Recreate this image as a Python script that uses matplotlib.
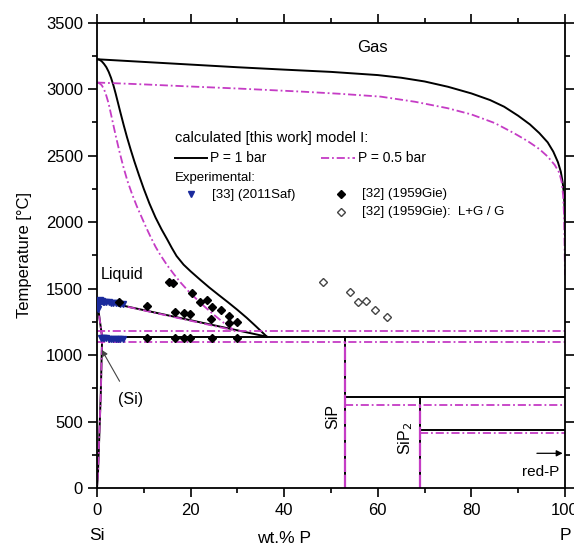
import matplotlib
matplotlib.use("Agg")
import matplotlib.pyplot as plt
from matplotlib.ticker import MultipleLocator

plt.rcParams['font.family'] = ['Liberation Sans', 'DejaVu Sans']

MAG = '#c53cc5'
DASH = (0, (4.5, 1.6, 1.0, 1.6))

# ---------------- data (wt.% P, T in degC) ----------------
gas1_x = [0, 5, 10, 20, 30, 40, 50, 60, 65, 70, 75, 80, 84, 87, 90, 92.5, 94.5, 96.3, 97.5, 98.5, 99.1, 99.5, 99.8, 99.95, 100]
gas1_T = [3225, 3215, 3205, 3185, 3165, 3147, 3130, 3106, 3086, 3058, 3018, 2968, 2918, 2868, 2800, 2735, 2670, 2600, 2530, 2450, 2380, 2300, 2200, 2050, 1900]

gas05_x = [0, 10, 20, 30, 43.5, 52, 60.6, 68, 74.9, 80, 85, 89.1, 92, 94.5, 96.3, 97.8, 98.8, 99.3, 99.6, 99.8, 99.9, 100]
gas05_T = [3050, 3036, 3020, 3005, 2982, 2965, 2944, 2905, 2857, 2810, 2745, 2669, 2610, 2550, 2493, 2430, 2370, 2300, 2200, 2050, 1850, 1600]

liq1_x = [0, 0.5, 1, 1.5, 2, 2.5, 3, 3.5, 4, 4.5, 5, 5.7, 6.4, 7.2, 8, 9, 10, 11.2, 12.5, 13.8, 15, 16, 17, 18.5, 20, 22, 24, 26, 28, 30, 32, 34, 36.3]
liq1_T = [3225, 3222, 3210, 3190, 3165, 3130, 3085, 3030, 2965, 2895, 2825, 2730, 2640, 2545, 2455, 2350, 2250, 2140, 2035, 1945, 1870, 1805, 1745, 1680, 1630, 1568, 1508, 1452, 1397, 1340, 1280, 1215, 1138]

liq05_x = [0, 0.5, 1, 1.5, 2, 2.5, 3, 3.5, 4, 4.8, 5.6, 6.5, 7.5, 8.5, 9.5, 10.5, 11.5, 12.5, 13.5, 15, 16.5, 18, 19.5, 21, 23, 25, 27, 29.2]
liq05_T = [3050, 3045, 3030, 3000, 2950, 2890, 2810, 2730, 2650, 2530, 2420, 2310, 2210, 2120, 2040, 1960, 1885, 1815, 1755, 1675, 1605, 1540, 1482, 1430, 1364, 1302, 1245, 1189]

siliq1_x = [0, 36.3]
siliq1_T = [1414, 1138]
siliq05_x = [0, 29.5]
siliq05_T = [1414, 1184]

solvus_x = [0, 1.1, 1.0, 0.8, 0.5, 0.2, 0]
solvus_T = [1414, 1134, 1000, 700, 400, 100, 0]

T_eut1 = 1134
T_eut05_hi = 1184
T_eut05_lo = 1099

x_SiP = 52.9
x_SiP2 = 69.0
T_SiP1, T_SiP05 = 687, 627
T_SiP2_1, T_SiP2_05 = 436, 416

# experimental data
saf_x = [0.2, 0.3, 0.3, 0.4, 0.6, 0.8, 1.0, 1.3, 1.6, 2.0, 2.5, 3.0, 3.5, 4.0, 4.5, 5.0, 5.5,
         0.8, 1.2, 1.6, 2.0, 2.5, 3.0, 3.5, 4.0, 4.5, 5.0, 5.5]
saf_T = [1345, 1370, 1395, 1410, 1412, 1408, 1405, 1402, 1400, 1398, 1396, 1394, 1392, 1390, 1388, 1386, 1384,
         1128, 1126, 1125, 1125, 1124, 1124, 1123, 1123, 1122, 1122, 1121]

gie_x = [15.3, 16.3, 20.3, 22.0, 23.5, 24.5, 26.5, 28.1, 29.9, 28.1, 24.4,
         4.6, 10.6, 16.7, 18.5, 19.9,
         10.6, 16.7, 18.5, 19.9, 24.6, 29.9]
gie_T = [1553, 1545, 1468, 1402, 1415, 1364, 1339, 1297, 1246, 1240, 1270,
         1402, 1367, 1327, 1318, 1312,
         1131, 1131, 1131, 1131, 1131, 1131]

gieg_x = [48.2, 54.0, 55.7, 57.5, 59.3, 61.9]
gieg_T = [1548, 1472, 1397, 1409, 1339, 1289]

# ---------------- figure ----------------
fig = plt.figure(figsize=(5.74, 5.47), dpi=100)
ax = fig.add_axes([97/574, 1 - 488/547, 468/574, 465.3/547])

LW = 1.4
MLW = 1.3

# 1 bar (black)
ax.plot(gas1_x, gas1_T, color='black', lw=LW)
ax.plot(liq1_x, liq1_T, color='black', lw=LW)
ax.plot(siliq1_x, siliq1_T, color='black', lw=LW)
ax.plot(solvus_x, solvus_T, color='black', lw=LW)
ax.plot([solvus_x[1], 100], [T_eut1, T_eut1], color='black', lw=LW)
ax.plot([x_SiP, x_SiP], [0, T_eut1], color='black', lw=LW)
ax.plot([x_SiP, 100], [T_SiP1, T_SiP1], color='black', lw=LW)
ax.plot([x_SiP2, x_SiP2], [0, T_SiP1], color='black', lw=LW)
ax.plot([x_SiP2, 100], [T_SiP2_1, T_SiP2_1], color='black', lw=LW)

# 0.5 bar (magenta dash-dot)
kw = dict(color=MAG, lw=MLW, linestyle=DASH)
ax.plot(gas05_x, gas05_T, **kw)
ax.plot(liq05_x, liq05_T, **kw)
ax.plot(siliq05_x, siliq05_T, **kw)
ax.plot(solvus_x, solvus_T, **kw)
ax.plot([0, 100], [T_eut05_hi, T_eut05_hi], **kw)
ax.plot([0, 100], [T_eut05_lo, T_eut05_lo], **kw)
ax.plot([x_SiP, x_SiP], [0, T_eut05_lo], color=MAG, lw=1.6, linestyle=(0, (6, 1.2)))
ax.plot([x_SiP, 100], [T_SiP05, T_SiP05], **kw)
ax.plot([x_SiP2, x_SiP2], [0, T_SiP05], color=MAG, lw=1.6, linestyle=(0, (6, 1.2)))
ax.plot([x_SiP2, 100], [T_SiP2_05, T_SiP2_05], **kw)

# experimental points
ax.plot(saf_x, saf_T, linestyle='none', marker='v', ms=4.2, color='#1a2a9c', zorder=5)
ax.plot(gie_x, gie_T, linestyle='none', marker='D', ms=4.2, color='black', zorder=5)
ax.plot(gieg_x, gieg_T, linestyle='none', marker='D', ms=3.6, mfc='white', mec='#444444', mew=1.0, zorder=5)

ax.set_xlim(0, 100)
ax.set_ylim(0, 3500)

# ticks
ax.xaxis.set_major_locator(MultipleLocator(20))
ax.xaxis.set_minor_locator(MultipleLocator(10))
ax.yaxis.set_major_locator(MultipleLocator(500))
ax.yaxis.set_minor_locator(MultipleLocator(250))
ax.tick_params(which='both', direction='out', top=True, right=True, width=1.2,
               labelsize=12, colors='black')
ax.tick_params(which='major', length=6.5)
ax.tick_params(which='minor', length=3.5)
ax.tick_params(axis='x', pad=4)
for s in ax.spines.values():
    s.set_linewidth(1.3)

ax.set_ylabel('Temperature [°C]', fontsize=12, labelpad=10)

# x-axis extra labels
ax.text(0, -0.103, 'Si', transform=ax.get_xaxis_transform(), ha='center', va='center', fontsize=12.5)
ax.text(100, -0.103, 'P', transform=ax.get_xaxis_transform(), ha='center', va='center', fontsize=12.5)
ax.text(40, -0.108, 'wt.% P', transform=ax.get_xaxis_transform(), ha='center', va='center', fontsize=12.5)

# region labels
ax.text(58.8, 3316, 'Gas', ha='center', va='center', fontsize=12)
ax.text(0.8, 1603, 'Liquid', ha='left', va='center', fontsize=11.5)
ax.text(50.3, 535, 'SiP', ha='center', va='center', rotation=90, fontsize=11.5)
ax.text(66.0, 370, 'SiP$_2$', ha='center', va='center', rotation=90, fontsize=11.5)
ax.annotate('(Si)', xy=(1.0, 1040), xytext=(7.1, 662), ha='center', va='center', fontsize=11.5,
            arrowprops=dict(arrowstyle='-|>', color='#444444', lw=0.8, shrinkA=7, shrinkB=0,
                            mutation_scale=9))
ax.annotate('', xy=(99.5, 261), xytext=(94.0, 261),
            arrowprops=dict(arrowstyle='-|>', color='black', lw=0.9, shrinkA=0, shrinkB=0,
                            mutation_scale=9))
ax.text(98.8, 120, 'red-P', ha='right', va='center', fontsize=11)

# legend (manual)
ax.text(16.7, 2634, 'calculated [this work] model I:', ha='left', va='center', fontsize=10.5)
ax.plot([16.7, 23.6], [2485, 2485], color='black', lw=LW)
ax.text(24.2, 2485, 'P = 1 bar', ha='left', va='center', fontsize=10)
ax.plot([47.8, 55.2], [2485, 2485], **kw)
ax.text(55.7, 2485, 'P = 0.5 bar', ha='left', va='center', fontsize=10)
ax.text(16.7, 2333, 'Experimental:', ha='left', va='center', fontsize=9.5)
ax.plot([20.1], [2210], linestyle='none', marker='v', ms=4.5, color='#1a2a9c')
ax.text(24.6, 2205, '[33] (2011Saf)', ha='left', va='center', fontsize=9.5)
ax.plot([52.2], [2212], linestyle='none', marker='D', ms=4.2, color='black')
ax.text(56.7, 2210, '[32] (1959Gie)', ha='left', va='center', fontsize=9.5)
ax.plot([52.2], [2077], linestyle='none', marker='D', ms=3.6, mfc='white', mec='#444444', mew=1.0)
ax.text(56.7, 2077, '[32] (1959Gie):  L+G / G', ha='left', va='center', fontsize=9.5)

fig.savefig('out.png', dpi=100)
